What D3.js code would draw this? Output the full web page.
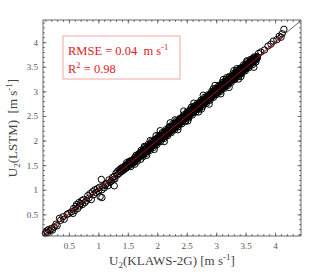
<!DOCTYPE html>
<html>
<head>
<meta charset="utf-8">
<script src="https://cdn.jsdelivr.net/npm/d3@7"></script>
<style>
  body { margin: 0; background: #fff; }
</style>
</head>
<body>
<svg id="chart" width="332" height="275"></svg>
<script>
// observed (KLAWS-2G) vs predicted (LSTM) wind speed, m/s
var pointsLow = [
  [0.10,0.12],[0.12,0.16],[0.14,0.13],[0.15,0.19],[0.18,0.17],[0.20,0.21],[0.22,0.18],[0.25,0.24],[0.28,0.30],[0.30,0.27],
  [0.34,0.42],[0.36,0.38],[0.40,0.45],[0.42,0.40],[0.47,0.50],[0.50,0.52],[0.54,0.55],[0.57,0.52],[0.58,0.62],[0.60,0.58],
  [0.62,0.66],[0.63,0.70],[0.65,0.62],[0.67,0.74],[0.68,0.67],[0.70,0.72],[0.72,0.78],[0.73,0.70],[0.75,0.80],[0.77,0.74],
  [0.80,0.78],[0.82,0.88],[0.84,0.83],[0.86,0.92],[0.88,0.80],[0.90,0.96],[0.92,0.90],[0.94,1.00],[0.96,0.94],[0.98,1.02],
  [1.00,0.97],[1.02,1.05],[1.03,0.86],[1.06,0.84],[1.06,1.00],[1.08,1.08],[1.10,1.04],[1.12,1.10],[1.14,1.13],[1.16,1.08],
  [1.18,1.20],[1.20,1.15],[1.22,1.18],[1.24,1.25],[1.25,1.20],[1.27,1.08],[1.27,1.27],[1.28,1.22],[1.30,1.34],[1.05,1.21]
];
var pointsMid = [
  [1.32,1.30],[1.33,1.38],[1.35,1.33],[1.36,1.41],[1.38,1.36],[1.39,1.44],[1.40,1.38],[1.42,1.46],[1.43,1.40],[1.45,1.48],
  [1.46,1.43],[1.47,1.50],[1.48,1.45],[1.50,1.53],[1.51,1.48],[1.52,1.56],[1.53,1.50],[1.55,1.58],[1.56,1.52],[1.57,1.60],
  [1.58,1.55],[1.60,1.62],[1.61,1.57],[1.62,1.66],[1.63,1.60],[1.64,1.70],[1.65,1.62],[1.66,1.67],[1.67,1.63],[1.68,1.72],
  [1.69,1.66],[1.70,1.74],[1.62,1.52],[1.72,1.62],[1.55,1.47],[1.48,1.55],[1.44,1.44],[1.59,1.59],[1.66,1.58],[1.54,1.54],
  [1.41,1.42],[1.49,1.49],[1.57,1.56],[1.64,1.64],[1.37,1.38],[1.53,1.58],[1.60,1.55],[1.68,1.67]
];
var pointsDense = [
  [1.71,1.69],[1.72,1.76],[1.73,1.70],[1.74,1.78],[1.75,1.73],[1.76,1.72],[1.77,1.81],[1.78,1.75],[1.79,1.83],[1.80,1.77],
  [1.81,1.84],[1.82,1.79],[1.83,1.86],[1.84,1.80],[1.85,1.89],[1.86,1.83],[1.87,1.85],[1.88,1.92],[1.89,1.86],[1.90,1.88],
  [1.91,1.95],[1.92,1.89],[1.93,1.97],[1.94,1.90],[1.95,2.00],[1.96,1.93],[1.97,1.99],[1.98,1.94],[1.99,2.03],[2.00,1.97],
  [2.01,2.05],[2.02,1.98],[2.03,2.07],[2.04,2.01],[2.05,2.10],[2.06,2.03],[2.07,2.09],[2.08,2.04],[2.09,2.12],[2.10,2.07],
  [2.11,2.16],[2.12,2.08],[2.13,2.15],[2.14,2.11],[2.15,2.19],[2.16,2.12],[2.17,2.20],[2.18,2.15],[2.19,2.24],[2.20,2.17],
  [2.21,2.25],[2.22,2.18],[2.23,2.26],[2.24,2.21],[2.25,2.29],[2.26,2.22],[2.27,2.30],[2.28,2.25],[2.29,2.33],[2.30,2.27],
  [2.31,2.35],[2.32,2.28],[2.33,2.37],[2.34,2.31],[2.35,2.39],[2.36,2.33],[2.37,2.40],[2.38,2.35],[2.39,2.44],[2.40,2.37],
  [2.41,2.45],[2.42,2.38],[2.43,2.47],[2.44,2.41],[2.45,2.49],[2.46,2.43],[2.47,2.51],[2.48,2.45],[2.49,2.53],[2.50,2.47],
  [2.51,2.56],[2.52,2.48],[2.53,2.57],[2.54,2.51],[2.55,2.60],[2.56,2.53],[2.57,2.61],[2.58,2.55],[2.59,2.63],[2.60,2.57],
  [2.61,2.65],[2.62,2.58],[2.63,2.67],[2.64,2.61],[2.65,2.69],[2.66,2.63],[2.67,2.71],[2.68,2.65],[2.69,2.73],[2.70,2.66],
  [2.71,2.75],[2.72,2.68],[2.73,2.77],[2.74,2.71],[2.75,2.79],[2.76,2.73],[2.77,2.81],[2.78,2.75],[2.79,2.83],[2.80,2.76],
  [2.81,2.84],[2.82,2.79],[2.83,2.87],[2.84,2.80],[2.85,2.89],[2.86,2.82],[2.87,2.90],[2.88,2.85],[2.89,2.93],[2.90,2.86],
  [2.91,2.95],[2.92,2.88],[2.93,2.96],[2.94,2.91],[2.95,2.99],[2.96,2.92],[2.97,3.01],[2.98,2.95],[2.99,3.03],[3.00,2.96],
  [3.01,3.05],[3.02,2.98],[3.03,3.06],[3.04,3.01],[3.05,3.09],[3.06,3.02],[3.07,3.11],[3.08,3.04],[3.09,3.13],[3.10,3.06],
  [3.11,3.15],[3.12,3.08],[3.13,3.16],[3.14,3.10],[3.15,3.19],[3.16,3.12],[3.17,3.21],[3.18,3.14],[3.19,3.22],[3.20,3.16],
  [3.21,3.25],[3.22,3.18],[3.23,3.26],[3.24,3.20],[3.25,3.29],[3.26,3.22],[3.27,3.30],[3.28,3.24],[3.29,3.33],[3.30,3.26],
  [3.31,3.34],[3.32,3.28],[3.33,3.37],[3.34,3.30],[3.35,3.39],[3.36,3.32],[3.37,3.40],[3.38,3.34],[3.39,3.43],[3.40,3.36],
  [3.41,3.44],[3.42,3.38],[3.43,3.47],[3.44,3.40],[3.45,3.48],[3.46,3.42],[3.47,3.50],[3.48,3.44],[3.49,3.53],[3.50,3.46],
  [3.51,3.54],[3.52,3.48],[3.53,3.56],[3.54,3.50],[3.55,3.58],[3.56,3.52],[3.57,3.60],[3.58,3.55],[3.59,3.62],[3.60,3.57],
  [3.61,3.64],[3.62,3.59],[3.63,3.66],[3.64,3.61],[3.65,3.67],[3.66,3.63],[3.67,3.69],[3.68,3.65],[3.69,3.70],[3.70,3.68]
];
var pointsDense2 = [
  [1.715,1.73],[1.745,1.70],[1.775,1.77],[1.805,1.82],[1.835,1.78],[1.865,1.88],[1.895,1.91],[1.925,1.93],[1.955,1.94],[1.985,2.00],
  [2.015,2.01],[2.045,2.06],[2.075,2.05],[2.105,2.13],[2.135,2.12],[2.165,2.16],[2.195,2.19],[2.225,2.22],[2.255,2.25],[2.285,2.29],
  [2.315,2.31],[2.345,2.36],[2.375,2.37],[2.405,2.41],[2.435,2.43],[2.465,2.47],[2.495,2.50],[2.525,2.52],[2.555,2.56],[2.585,2.59],
  [2.615,2.61],[2.645,2.65],[2.675,2.68],[2.705,2.70],[2.735,2.74],[2.765,2.77],[2.795,2.79],[2.825,2.83],[2.855,2.86],[2.885,2.88],
  [2.915,2.92],[2.945,2.95],[2.975,2.98],[3.005,3.00],[3.035,3.04],[3.065,3.07],[3.095,3.09],[3.125,3.12],[3.155,3.16],[3.185,3.19],
  [3.215,3.21],[3.245,3.25],[3.275,3.27],[3.305,3.31],[3.335,3.33],[3.365,3.37],[3.395,3.39],[3.425,3.43],[3.455,3.45],[3.485,3.49],
  [3.515,3.51],[3.545,3.55],[3.575,3.57],[3.605,3.61],[3.635,3.63],[3.665,3.66],[3.695,3.70],[2.20,2.28],[2.48,2.39],[2.95,3.05]
];
var pointsDense3 = [
  [1.725,1.80],[1.755,1.67],[1.785,1.86],[1.815,1.74],[1.845,1.92],[1.875,1.80],[1.905,1.98],[1.935,1.86],[1.965,2.03],[1.995,1.92],
  [2.025,2.10],[2.055,1.98],[2.085,2.16],[2.115,2.04],[2.145,2.22],[2.175,2.10],[2.205,2.27],[2.235,2.16],[2.265,2.34],[2.295,2.22],
  [2.325,2.40],[2.355,2.28],[2.385,2.45],[2.415,2.34],[2.445,2.52],[2.475,2.40],[2.505,2.58],[2.535,2.46],[2.565,2.64],[2.595,2.52],
  [2.625,2.70],[2.655,2.58],[2.685,2.76],[2.715,2.64],[2.745,2.82],[2.775,2.70],[2.805,2.88],[2.835,2.76],[2.865,2.93],[2.895,2.82],
  [2.925,3.00],[2.955,2.88],[2.985,3.06],[3.015,2.94],[3.045,3.12],[3.075,3.00],[3.105,3.18],[3.135,3.06],[3.165,3.24],[3.195,3.12],
  [3.225,3.30],[3.255,3.18],[3.285,3.36],[3.315,3.24],[3.345,3.42],[3.375,3.30],[3.405,3.47],[3.435,3.36],[3.465,3.54],[3.495,3.42],
  [3.525,3.60],[3.555,3.48],[3.585,3.65],[3.615,3.54],[3.645,3.70],[3.675,3.60]
];
var pointsOut = [
  [1.88,2.00],[1.95,1.82],[2.05,2.20],[2.12,1.98],[2.22,2.36],[2.35,2.22],[2.45,2.60],[2.52,2.40],[2.62,2.76],[2.70,2.58],
  [2.78,2.92],[2.88,2.74],[2.98,3.12],[3.08,2.95],[3.12,3.24],[3.22,3.08],[3.35,3.46],[3.42,3.30],[3.30,3.42],[3.52,3.62],
  [1.78,1.88],[1.82,1.70],[2.58,2.68],[3.18,3.28],[1.98,2.10],[2.30,2.42],[2.75,2.64],[3.38,3.25]
];
var pointsHigh = [
  [3.64,3.49],[3.72,3.77],[3.76,3.80],[3.82,3.84],[3.88,3.92],[3.93,3.96],[3.97,4.02],[4.03,4.05],[4.07,4.12],[4.10,4.10],
  [4.12,4.17],[4.15,4.26]
];
var fitSlope = 0.99, fitIntercept = 0.02, fitRange = [0.1, 4.15];
var xTicks = [0.5, 1, 1.5, 2, 2.5, 3, 3.5, 4];
var yTicks = [0.5, 1, 1.5, 2, 2.5, 3, 3.5, 4];
var rmse = "0.04", r2 = "0.98";

var points = pointsLow.concat(pointsMid, pointsDense, pointsDense2, pointsDense3, pointsOut, pointsHigh);

var serif = 'Liberation Serif';
var margin = {left: 43, top: 20, right: 31, bottom: 39};
var width = 332 - margin.left - margin.right;
var height = 275 - margin.top - margin.bottom;

var svg = d3.select('#chart');
var g = svg.append('g').attr('transform', 'translate(' + margin.left + ',' + margin.top + ')');

var x = d3.scaleLinear().domain([0.06, 4.44]).range([0, width]);
var y = d3.scaleLinear().domain([0.06, 4.45]).range([height, 0]);

var minorX = d3.range(0.1, 4.41, 0.1);
var minorY = d3.range(0.1, 4.41, 0.1);

// frame ticks, inward on all four sides
function frameAxis(axis, tickVals, size) {
  return axis.tickValues(tickVals).tickSizeInner(-size).tickSizeOuter(0).tickFormat('');
}
g.append('g').attr('transform', 'translate(0,' + height + ')')
  .call(frameAxis(d3.axisBottom(x), minorX, 2));
g.append('g').call(frameAxis(d3.axisTop(x), minorX, 2));
g.append('g').call(frameAxis(d3.axisLeft(y), minorY, 2));
g.append('g').attr('transform', 'translate(' + width + ',0)')
  .call(frameAxis(d3.axisRight(y), minorY, 2));
g.append('g').attr('transform', 'translate(0,' + height + ')')
  .call(frameAxis(d3.axisBottom(x), xTicks, 3.5));
g.append('g').call(frameAxis(d3.axisLeft(y), yTicks, 3.5));
g.append('g').attr('transform', 'translate(' + width + ',0)')
  .call(frameAxis(d3.axisRight(y), yTicks, 3.5));
g.append('g').call(frameAxis(d3.axisTop(x), xTicks, 3.5));
g.selectAll('.domain').remove();
g.selectAll('.tick line').attr('stroke', '#555').attr('stroke-width', 0.8);

// tick labels
g.append('g').attr('transform', 'translate(0,' + height + ')')
  .call(d3.axisBottom(x).tickValues(xTicks).tickSize(0).tickPadding(7).tickFormat(d3.format('')))
  .attr('font-family', serif).attr('font-size', 9)
  .call(function (a) { a.select('.domain').remove(); })
  .selectAll('text').attr('fill', '#555');
g.append('g')
  .call(d3.axisLeft(y).tickValues(yTicks).tickSize(0).tickPadding(5).tickFormat(d3.format('')))
  .attr('font-family', serif).attr('font-size', 9)
  .call(function (a) { a.select('.domain').remove(); })
  .selectAll('text').attr('fill', '#555');

// 1:1 line
g.append('line')
  .attr('x1', x(0.06)).attr('y1', y(0.06))
  .attr('x2', x(4.44)).attr('y2', y(4.44))
  .attr('stroke', '#222').attr('stroke-width', 0.7);

// scatter
g.append('g').selectAll('circle')
  .data(points)
  .enter()
  .append('circle')
  .attr('cx', function (d) { return x(d[0]); })
  .attr('cy', function (d) { return y(d[1]); })
  .attr('r', 3.2)
  .attr('fill', 'none')
  .attr('stroke', '#000')
  .attr('stroke-width', 1);

// fitted line
g.append('line')
  .attr('x1', x(fitRange[0])).attr('y1', y(fitSlope * fitRange[0] + fitIntercept))
  .attr('x2', x(fitRange[1])).attr('y2', y(fitSlope * fitRange[1] + fitIntercept))
  .attr('stroke', '#d11').attr('stroke-width', 0.8);

// frame
g.append('rect').attr('width', width).attr('height', height)
  .attr('fill', 'none').attr('stroke', '#444').attr('stroke-width', 0.8);

// stats box
g.append('rect').attr('x', 20).attr('y', 16).attr('width', 117).attr('height', 43)
  .attr('fill', '#fff').attr('stroke', '#f4a3a3').attr('stroke-width', 1);
var t1 = g.append('text').attr('x', 25).attr('y', 35).attr('font-size', 12.5).attr('font-family', serif).attr('fill', '#e31a1c');
t1.append('tspan').text('RMSE = ' + rmse + '\u00a0\u00a0m s');
t1.append('tspan').attr('dy', -5).attr('font-size', 8.5).text('-1');
var t2 = g.append('text').attr('x', 25).attr('y', 53).attr('font-size', 12.5).attr('font-family', serif).attr('fill', '#e31a1c');
t2.append('tspan').text('R');
t2.append('tspan').attr('dy', -5).attr('font-size', 8.5).text('2');
t2.append('tspan').attr('dy', 5).text(' = ' + r2);

// axis titles
var xl = svg.append('text').attr('x', margin.left + width / 2).attr('y', 265)
  .attr('text-anchor', 'middle').attr('font-size', 13).attr('font-family', serif).attr('fill', '#444');
xl.append('tspan').text('U');
xl.append('tspan').attr('dy', 3).attr('font-size', 9).text('2');
xl.append('tspan').attr('dy', -3).text('(KLAWS-2G) [m s');
xl.append('tspan').attr('dy', -5).attr('font-size', 9).text('-1');
xl.append('tspan').attr('dy', 5).text(']');

var yl = svg.append('text').attr('transform', 'translate(17,' + (margin.top + height / 2) + ') rotate(-90)')
  .attr('text-anchor', 'middle').attr('font-size', 13).attr('font-family', serif).attr('fill', '#444');
yl.append('tspan').text('U');
yl.append('tspan').attr('dy', 3).attr('font-size', 9).text('2');
yl.append('tspan').attr('dy', -3).text('(LSTM)\u00a0\u00a0[m s');
yl.append('tspan').attr('dy', -5).attr('font-size', 9).text('-1');
yl.append('tspan').attr('dy', 5).text(']');
</script>
</body>
</html>
